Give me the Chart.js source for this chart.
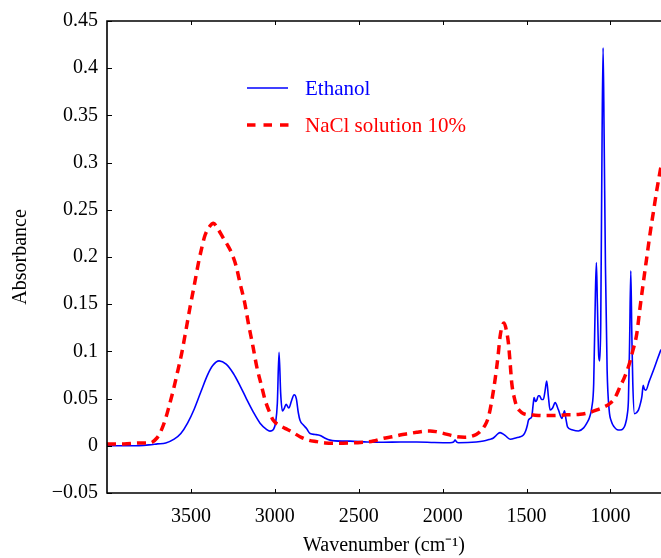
<!DOCTYPE html>
<html><head><meta charset="utf-8">
<script src="https://cdn.jsdelivr.net/npm/chart.js@4.4.1/dist/chart.umd.min.js"></script>
<style>html,body{margin:0;padding:0;background:#fff;}canvas{display:block;}</style>
</head><body>
<canvas id="c" width="661" height="558"></canvas>
<script>
const seriesNames = ['Ethanol', 'NaCl solution 10%'];
const xTitle = 'Wavenumber (cm\u207B\u00B9)';
const yTitle = 'Absorbance';
const xTickValues = [3500, 3000, 2500, 2000, 1500, 1000];
const xTickLabels = ['3500', '3000', '2500', '2000', '1500', '1000'];
const yTickValues = [-0.05, 0, 0.05, 0.1, 0.15, 0.2, 0.25, 0.3, 0.35, 0.4, 0.45];
const yTickLabels = ['\u22120.05', '0', '0.05', '0.1', '0.15', '0.2', '0.25', '0.3', '0.35', '0.4', '0.45'];

const ethanolWavenumber = [4000,3850,3750,3700,3650,3600,3560,3520,3480,3440,3400,3370,3332,3290,3247,3207,3167,3128,3088,3050,3029,3010,2995,2985,2975,2965,2955,2943,2933,2917,2900,2885,2872,2860,2850,2830,2810,2790,2760,2730,2700,2671,2600,2552,2450,2353,2250,2154,2050,1956,1935,1926,1916,1906,1800,1757,1717,1700,1687,1670,1658,1645,1628,1598,1560,1538,1519,1505,1495,1489,1479,1469,1460,1455,1447,1439,1430,1423,1410,1400,1390,1380,1370,1360,1345,1330,1310,1290,1282,1274,1265,1256,1230,1191,1160,1141,1125,1111,1100,1090,1084,1078,1070,1064,1058,1050,1044,1038,1030,1020,1008,995,978,960,943,925,913,900,893,886,879,873,867,857,845,833,820,813,805,798,789,770,744,720,699];
const ethanolAbsorbance = [0.000,0.000,0.001,0.002,0.003,0.007,0.013,0.024,0.039,0.0575,0.0754,0.085,0.090,0.0865,0.0766,0.0636,0.049,0.0357,0.024,0.0175,0.0155,0.017,0.025,0.045,0.099,0.055,0.037,0.040,0.044,0.040,0.048,0.054,0.050,0.035,0.027,0.022,0.018,0.013,0.012,0.011,0.008,0.006,0.005,0.005,0.004,0.0037,0.004,0.004,0.0035,0.0033,0.004,0.006,0.004,0.0033,0.004,0.005,0.007,0.008,0.010,0.013,0.014,0.013,0.011,0.007,0.0085,0.0096,0.0114,0.016,0.022,0.027,0.029,0.031,0.045,0.051,0.047,0.0485,0.053,0.053,0.049,0.049,0.058,0.0686,0.052,0.038,0.040,0.0457,0.038,0.029,0.033,0.037,0.028,0.020,0.017,0.0157,0.019,0.024,0.030,0.041,0.066,0.160,0.194,0.150,0.095,0.090,0.130,0.330,0.4217,0.330,0.190,0.080,0.038,0.026,0.020,0.017,0.0167,0.018,0.022,0.033,0.049,0.110,0.1855,0.120,0.066,0.034,0.035,0.038,0.046,0.052,0.064,0.060,0.059,0.068,0.080,0.092,0.102];

const naclWavenumber = [4000,3900,3800,3744,3704,3680,3654,3630,3605,3580,3555,3530,3505,3480,3456,3435,3416,3390,3366,3340,3307,3280,3257,3230,3207,3180,3158,3130,3108,3080,3058,3030,3009,2975,2939,2900,2850,2800,2750,2700,2631,2512,2450,2413,2353,2300,2254,2200,2155,2110,2075,2040,1996,1950,1917,1870,1837,1800,1777,1750,1728,1710,1688,1670,1658,1645,1634,1620,1608,1598,1588,1572,1558,1540,1519,1459,1400,1340,1260,1181,1130,1081,1040,1002,970,943,918,893,868,843,825,805,785,764,744,724,699];
const naclAbsorbance = [0.002,0.002,0.003,0.003,0.008,0.015,0.027,0.042,0.059,0.078,0.098,0.122,0.147,0.170,0.193,0.210,0.223,0.232,0.2357,0.230,0.220,0.212,0.204,0.190,0.172,0.152,0.130,0.105,0.084,0.064,0.0485,0.035,0.027,0.022,0.0185,0.015,0.0096,0.006,0.0044,0.003,0.0027,0.0033,0.004,0.005,0.008,0.0095,0.0114,0.013,0.0143,0.0155,0.0157,0.015,0.0132,0.011,0.0096,0.009,0.0096,0.012,0.015,0.021,0.030,0.045,0.0697,0.095,0.1156,0.127,0.130,0.122,0.1086,0.088,0.066,0.050,0.0414,0.037,0.034,0.0326,0.032,0.032,0.0328,0.0333,0.035,0.038,0.041,0.045,0.052,0.0626,0.072,0.0838,0.100,0.119,0.145,0.172,0.198,0.225,0.248,0.271,0.296];

const FONT = "'Liberation Serif','Times New Roman',serif";
const BLUE = '#0000ff';
const RED = '#ff0000';

const toPoints = (xs, ys) => xs.map((x, i) => ({ x: x, y: ys[i] }));

const framePlugin = {
  id: 'frame',
  afterDraw(chart) {
    const { ctx, chartArea: { left, right, top, bottom }, scales: { x, y } } = chart;
    ctx.save();
    ctx.strokeStyle = '#000';
    ctx.lineWidth = 1.6;
    ctx.beginPath();
    ctx.moveTo(right, top); ctx.lineTo(left, top); ctx.lineTo(left, bottom); ctx.lineTo(right, bottom);
    ctx.stroke();
    ctx.lineWidth = 1;
    ctx.beginPath();
    xTickValues.forEach(v => {
      const px = Math.round(x.getPixelForValue(v)) + 0.5;
      ctx.moveTo(px, bottom); ctx.lineTo(px, bottom - 4);
      ctx.moveTo(px, top); ctx.lineTo(px, top + 4);
    });
    yTickValues.forEach(v => {
      const py = Math.round(y.getPixelForValue(v)) + 0.5;
      ctx.moveTo(left, py); ctx.lineTo(left + 5, py);
    });
    ctx.stroke();
    // legend
    const ds = chart.data.datasets;
    ctx.font = '21px ' + FONT;
    ctx.textAlign = 'left';
    ctx.textBaseline = 'alphabetic';
    ctx.strokeStyle = ds[0].borderColor; ctx.lineWidth = ds[0].borderWidth; ctx.setLineDash([]);
    ctx.beginPath(); ctx.moveTo(247, 88); ctx.lineTo(288, 88); ctx.stroke();
    ctx.fillStyle = ds[0].borderColor; ctx.fillText(ds[0].label, 305, 95);
    ctx.strokeStyle = ds[1].borderColor; ctx.lineWidth = ds[1].borderWidth; ctx.setLineDash([8.5, 8]);
    ctx.beginPath(); ctx.moveTo(247, 125); ctx.lineTo(290, 125); ctx.stroke();
    ctx.setLineDash([]);
    ctx.fillStyle = ds[1].borderColor; ctx.fillText(ds[1].label, 305, 132);
    ctx.restore();
  }
};

new Chart(document.getElementById('c'), {
  type: 'line',
  data: {
    datasets: [
      { label: seriesNames[0], data: toPoints(ethanolWavenumber, ethanolAbsorbance), borderColor: BLUE, borderWidth: 1.6,
        pointRadius: 0, cubicInterpolationMode: 'monotone', fill: false, order: 1 },
      { label: seriesNames[1], data: toPoints(naclWavenumber, naclAbsorbance), borderColor: RED, borderWidth: 3.5,
        borderDash: [9, 6], pointRadius: 0, cubicInterpolationMode: 'monotone', fill: false, order: 0 }
    ]
  },
  options: {
    responsive: false,
    animation: false,
    devicePixelRatio: 1,
    layout: { padding: { left: 0, right: 0, top: 21, bottom: 0 } },
    plugins: { legend: { display: false }, tooltip: { enabled: false } },
    scales: {
      x: {
        type: 'linear', reverse: true, min: 699, max: 4000, position: 'bottom',
        afterBuildTicks: s => { s.ticks = xTickValues.map(v => ({ value: v })); },
        afterFit: s => { s.height = 65; },
        grid: { display: false, drawTicks: false }, border: { display: false },
        ticks: { autoSkip: false, maxRotation: 0, padding: 12, color: '#000', font: { family: FONT, size: 20 },
          callback: v => { const i = xTickValues.indexOf(v); return i >= 0 ? xTickLabels[i] : ''; } },
        title: { display: true, text: xTitle, color: '#000', font: { family: FONT, size: 20 }, padding: { top: 0, bottom: 0 } }
      },
      y: {
        type: 'linear', min: -0.05, max: 0.45, position: 'left',
        afterBuildTicks: s => { s.ticks = yTickValues.map(v => ({ value: v })); },
        afterFit: s => { s.width = 107; },
        grid: { display: false, drawTicks: false }, border: { display: false },
        ticks: { autoSkip: false, padding: 9, color: '#000', font: { family: FONT, size: 20 },
          callback: v => { const i = yTickValues.findIndex(t => Math.abs(t - v) < 1e-9); return i >= 0 ? yTickLabels[i] : ''; } },
        title: { display: true, text: yTitle, color: '#000', font: { family: FONT, size: 20 }, padding: { top: 9, bottom: 0 } }
      }
    }
  },
  plugins: [framePlugin]
});
</script>
</body></html>
